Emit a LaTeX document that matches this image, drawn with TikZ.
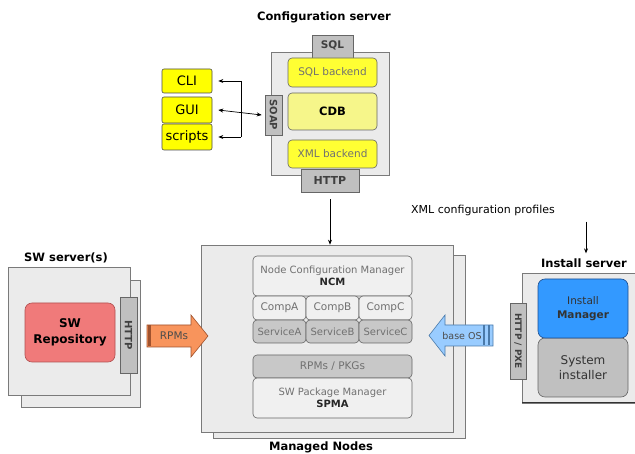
\documentclass[tikz,border=0pt]{standalone}
\usepackage{fontspec}
\setmainfont{DejaVu Sans}
\usetikzlibrary{arrows.meta}
\definecolor{panelgray}{HTML}{EBEBEB}
\definecolor{panelline}{HTML}{7A7A7A}
\definecolor{tabgray}{HTML}{C0C0C0}
\definecolor{boxwhite}{HTML}{F0F0F0}
\definecolor{svcgray}{HTML}{C8C8C8}
\definecolor{yel}{HTML}{FFFF00}
\definecolor{backyel}{HTML}{FFFF33}
\definecolor{cdbyel}{HTML}{F6F68A}
\definecolor{repored}{HTML}{F07A7A}
\definecolor{repoline}{HTML}{B05050}
\definecolor{instblue}{HTML}{3399FF}
\definecolor{instline}{HTML}{1F4F8F}
\definecolor{rpmorange}{HTML}{F8945C}
\definecolor{rpmline}{HTML}{A0522D}
\definecolor{osblue}{HTML}{99CCFF}
\definecolor{osline}{HTML}{4A7AAA}
\definecolor{txtgray}{HTML}{707070}
\begin{document}
\begin{tikzpicture}[x=1pt,y=-1pt,
  panel/.style={rectangle, fill=panelgray, draw=panelline, line width=0.6pt, inner sep=0pt},
  tabbox/.style={rectangle, fill=tabgray, draw=black!60, line width=0.6pt, inner sep=0pt, font=\fontsize{10.5}{11}\selectfont\bfseries, text=black!75},
  ybox/.style={rectangle, rounded corners=2pt, fill=yel, draw=black!70, line width=0.6pt, inner sep=0pt, font=\fontsize{13}{14}\selectfont},
  bkbox/.style={rectangle, rounded corners=4pt, fill=backyel, draw=black!60, line width=0.6pt, inner sep=0pt, font=\fontsize{10.5}{11}\selectfont, text=txtgray},
  inbox/.style={rectangle, rounded corners=4pt, fill=boxwhite, draw=black!60, line width=0.6pt, inner sep=0pt, font=\fontsize{10}{11}\selectfont, text=txtgray, align=center},
  svbox/.style={inbox, fill=svcgray},
  title/.style={font=\fontsize{11.5}{13}\selectfont\bfseries, inner sep=0pt},
  arr/.style={-{Stealth[length=5pt,width=4pt]}, line width=0.7pt},
  biarr/.style={{Stealth[length=5pt,width=4pt]}-{Stealth[length=5pt,width=4pt]}, line width=0.7pt}
]
\useasboundingbox (0,0) rectangle (635,454);
\fill[white] (0,0) rectangle (635,454);

% ---------------- Configuration server ----------------
\node[title] (cstitle) at (324,17) {Configuration server};
\node[panel, minimum width=118pt, minimum height=123pt] (cs) at (330,113.5) {};
\node[tabbox, minimum width=41pt, minimum height=23pt, anchor=north] (sql) at (332.5,35) {};
\node[font=\fontsize{10.5}{11}\selectfont\bfseries, text=black!75, inner sep=0pt] (sqltxt) at (332.5,45.5) {SQL};
\node[bkbox, minimum width=89pt, minimum height=29pt] (sqlb) at (332.5,72.5) {SQL backend};
\node[bkbox, fill=cdbyel, minimum width=89pt, minimum height=37pt, font=\fontsize{11.5}{12}\selectfont\bfseries, text=black] (cdb) at (332.5,111.5) {CDB};
\node[bkbox, minimum width=89pt, minimum height=28pt] (xmlb) at (332.5,154) {XML backend};
\node[tabbox, minimum width=58pt, minimum height=23pt, font=\fontsize{11}{12}\selectfont\bfseries] (http1) at (330,180.5) {HTTP};
\node[tabbox, rotate=-90, minimum width=40pt, minimum height=17pt, font=\fontsize{10}{11}\selectfont\bfseries] (soap) at (273.5,115) {SOAP};

\node[ybox, minimum width=50pt, minimum height=24pt] (cli) at (187,81) {CLI};
\node[ybox, minimum width=50pt, minimum height=26pt] (gui) at (187,110) {GUI};
\node[ybox, minimum width=50pt, minimum height=26pt] (scripts) at (187,137) {scripts};
\coordinate (jn) at (241,110);
\draw[arr] (cli.east -| jn) -- ([xshift=6pt]cli.east);
\draw[arr] (scripts.east -| jn) -- ([xshift=6pt]scripts.east);
\draw[line width=0.7pt] (cli.east -| jn) -- (scripts.east -| jn);
\draw[biarr] ([xshift=6pt]gui.east) -- ([xshift=-3pt]soap.south);

% ---------------- Managed nodes ----------------
\node[panel, minimum width=252pt, minimum height=183pt] (mnback) at (339,346.5) {};
\node[panel, minimum width=252pt, minimum height=187pt] (mn) at (327,338.5) {};
\draw[arr] ([yshift=-7pt]http1.south) -- (mn.north -| http1);
\node[inbox, minimum width=159pt, minimum height=40pt] (ncm) at (332.5,276) {Node Configuration Manager\\[1pt]{\bfseries\color{black!85}NCM}};
\node[inbox, minimum width=53pt, minimum height=24pt, font=\fontsize{10.5}{11}\selectfont] (compa) at (279.5,308) {CompA};
\node[inbox, minimum width=53pt, minimum height=24pt, font=\fontsize{10.5}{11}\selectfont] (compb) at (332.5,308) {CompB};
\node[inbox, minimum width=53pt, minimum height=24pt, font=\fontsize{10.5}{11}\selectfont] (compc) at (385.5,308) {CompC};
\node[svbox, minimum width=53pt, minimum height=23pt, font=\fontsize{10}{11}\selectfont] (sva) at (279.5,331.5) {ServiceA};
\node[svbox, minimum width=53pt, minimum height=23pt, font=\fontsize{10}{11}\selectfont] (svb) at (332.5,331.5) {ServiceB};
\node[svbox, minimum width=53pt, minimum height=23pt, font=\fontsize{10}{11}\selectfont] (svc) at (385.5,331.5) {ServiceC};
\node[svbox, minimum width=159pt, minimum height=23pt, font=\fontsize{10.5}{11}\selectfont] (pkgs) at (332.5,366.5) {RPMs / PKGs};
\node[inbox, minimum width=159pt, minimum height=40pt] (spma) at (332.5,398) {SW Package Manager\\[1pt]{\bfseries\color{black!85}SPMA}};
\node[title] (mntitle) at (321,447) {Managed Nodes};

% ---------------- SW servers ----------------
\node[title] (swtitle) at (66,258) {SW server(s)};
\node[panel, minimum width=119pt, minimum height=127pt] (swback) at (80.5,343.5) {};
\node[panel, minimum width=122pt, minimum height=128pt] (sw) at (69,331) {};
\node[rectangle, rounded corners=7pt, fill=repored, draw=repoline, line width=0.6pt, minimum width=90pt, minimum height=59pt, align=center, font=\fontsize{12}{16}\selectfont\bfseries] (repo) at (70,332.5) {SW\\Repository};
\node[tabbox, rotate=-90, minimum width=76pt, minimum height=17pt, font=\fontsize{10}{11}\selectfont\bfseries] (http2) at (128.5,335) {HTTP};

% RPMs arrow
\filldraw[fill=rpmorange, draw=rpmline, line width=0.6pt]
  (147,325) -- (191,325) -- (191,315) -- (208,336) -- (191,357) -- (191,347) -- (147,347) -- cycle;
\fill[rpmline] (148,325.5) rectangle (151,346.5);
\node[font=\fontsize{10.5}{11}\selectfont, text=black!70, inner sep=0pt] (rpmtxt) at (174,336) {RPMs};

% ---------------- Install server ----------------
\node[font=\fontsize{11}{12}\selectfont, inner sep=0pt] (xmltxt) at (483,210) {XML configuration profiles};
\node[title] (istitle) at (584,263) {Install server};
\draw[arr] (xmltxt.south -| istitle) ++(2pt,-6pt) -- ([xshift=2pt,yshift=5pt]istitle.north);
\fill[panelgray] (522,273) rectangle (640,403);
\draw[panelline, line width=0.6pt] (640,273) -- (522,273) -- (522,403) -- (640,403);
\draw[black!80, line width=1pt] (522,403) -- (640,403);
\node[rectangle, rounded corners=7pt, fill=tabgray, draw=black!60, line width=0.6pt, minimum width=90pt, minimum height=59pt, align=center, font=\fontsize{12}{15}\selectfont, text=black!80] (sysinst) at (583,367.5) {System\\installer};
\node[rectangle, rounded corners=7pt, fill=instblue, draw=instline, line width=0.6pt, minimum width=90pt, minimum height=59pt, align=center, font=\fontsize{10.5}{14}\selectfont, text=black!80] (instmgr) at (583,308.5) {Install\\{\bfseries Manager}};
\node[tabbox, rotate=-90, minimum width=76pt, minimum height=16pt, font=\fontsize{9}{10}\selectfont\bfseries] (pxe) at (518,341) {HTTP / PXE};

% base OS arrow
\filldraw[fill=osblue, draw=osline, line width=0.6pt]
  (493,325) -- (445,325) -- (445,315) -- (429,335.5) -- (445,356) -- (445,346) -- (493,346) -- cycle;
\fill[osline] (483,325.5) rectangle (485,345.5);
\fill[osline] (488,325.5) rectangle (490,345.5);
\node[font=\fontsize{9.5}{10}\selectfont, text=black!70, inner sep=0pt] (ostxt) at (462,335.5) {base OS};
\end{tikzpicture}
\end{document}
